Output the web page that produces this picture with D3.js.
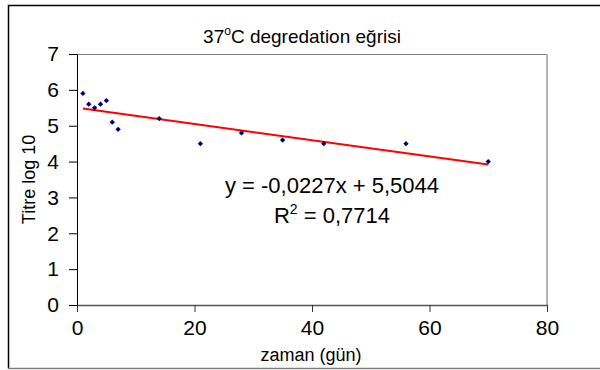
<!DOCTYPE html>
<html>
<head>
<meta charset="utf-8">
<script src="https://cdn.jsdelivr.net/npm/d3@7"></script>
<style>
  body { margin: 0; background: #fff; }
  svg { display: block; font-family: Arial, "Liberation Sans", sans-serif; }
</style>
</head>
<body>
<div id="chart"></div>
<script>
// 37°C degradation curve, titre (log10) vs days

const days = [1, 2, 3, 4, 5, 6, 7, 14, 21, 28, 35, 42, 56, 70];
const titre = [5.9, 5.6, 5.5, 5.6, 5.7, 5.1, 4.9, 5.2, 4.5, 4.8, 4.6, 4.5, 4.5, 4.0];
const slope = -0.0227;
const intercept = 5.5044;
const xTicks = [0, 20, 40, 60, 80];
const yTicks = [0, 1, 2, 3, 4, 5, 6, 7];

const width = 600, height = 370;
const margin = {top: 54, right: 53, bottom: 65, left: 77};

const svg = d3.select("#chart")
    .append("svg")
    .attr("width", width)
    .attr("height", height);

// outer chart border (cropped on the right)
svg.append("path")
    .attr("d", `M640,5.5 H8.5 V368.5`)
    .attr("fill", "none")
    .attr("stroke", "#000")
    .attr("stroke-width", 1.5);
svg.append("line")
    .attr("x1", 8).attr("x2", 600)
    .attr("y1", 368.5).attr("y2", 368.5)
    .attr("stroke", "#808080")
    .attr("stroke-width", 1.5);

const x = d3.scaleLinear()
    .domain([0, 80])
    .range([margin.left, width - margin.right]);

const y = d3.scaleLinear()
    .domain([0, 7])
    .range([height - margin.bottom, margin.top]);

// plot area frame: top and right edges
svg.append("line")
    .attr("x1", x(0)).attr("x2", x(80))
    .attr("y1", y(7) + 0.5).attr("y2", y(7) + 0.5)
    .attr("stroke", "#808080");
svg.append("line")
    .attr("x1", x(80)).attr("x2", x(80))
    .attr("y1", y(7)).attr("y2", y(0))
    .attr("stroke", "#b4b4b4")
    .attr("stroke-width", 2);

// x axis
const xAxis = svg.append("g")
    .attr("transform", `translate(0,${y(0)})`)
    .call(d3.axisBottom(x).tickValues(xTicks).tickFormat(d3.format("d"))
        .tickSize(7).tickPadding(8).tickSizeOuter(0));
xAxis.select(".domain").attr("stroke", "#555").attr("stroke-width", 1.5);
xAxis.selectAll(".tick line").attr("stroke", "#333");
xAxis.selectAll("text")
    .attr("font-size", 21)
    .attr("font-family", "Arial, 'Liberation Sans', sans-serif")
    .attr("fill", "#000");

// y axis
const yAxis = svg.append("g")
    .attr("transform", `translate(${x(0)},0)`)
    .call(d3.axisLeft(y).tickValues(yTicks).tickFormat(d3.format("d"))
        .tickSize(8).tickPadding(10).tickSizeOuter(0));
yAxis.select(".domain").attr("stroke", "#000");
yAxis.selectAll(".tick line").attr("stroke", "#000");
yAxis.selectAll("text")
    .attr("font-size", 21)
    .attr("font-family", "Arial, 'Liberation Sans', sans-serif")
    .attr("fill", "#000");

// trend line over the data range
const xr = d3.extent(days);
svg.append("line")
    .attr("x1", x(xr[0])).attr("y1", y(slope * xr[0] + intercept))
    .attr("x2", x(xr[1])).attr("y2", y(slope * xr[1] + intercept))
    .attr("stroke", "#ff0000")
    .attr("stroke-width", 2);

// data points, small navy diamonds
const diamond = d3.symbol().type(d3.symbolDiamond2).size(18);
svg.append("g")
    .selectAll("path")
    .data(days.map((d, i) => [d, titre[i]]))
    .join("path")
    .attr("transform", d => `translate(${x(d[0])},${y(d[1])})`)
    .attr("d", diamond)
    .attr("fill", "#000080");

// title
const title = svg.append("text")
    .attr("x", 302)
    .attr("y", 43)
    .attr("text-anchor", "middle")
    .attr("font-size", 19);
title.append("tspan").text("37");
title.append("tspan").attr("font-size", 12).attr("dy", -8).text("o");
title.append("tspan").attr("dy", 8).text("C degredation eğrisi");

// axis titles
svg.append("text")
    .attr("x", 311)
    .attr("y", 361)
    .attr("text-anchor", "middle")
    .attr("font-size", 18)
    .text("zaman (gün)");

svg.append("text")
    .attr("transform", `translate(35,${(y(0) + y(7)) / 2}) rotate(-90)`)
    .attr("text-anchor", "middle")
    .attr("font-size", 18)
    .text("Titre log 10");

// regression equation
svg.append("text")
    .attr("x", 332)
    .attr("y", 193)
    .attr("text-anchor", "middle")
    .attr("font-size", 22)
    .text("y = -0,0227x + 5,5044");

const r2 = svg.append("text")
    .attr("x", 332)
    .attr("y", 223)
    .attr("text-anchor", "middle")
    .attr("font-size", 22);
r2.append("tspan").text("R");
r2.append("tspan").attr("font-size", 14).attr("dy", -9).text("2");
r2.append("tspan").attr("dy", 9).text(" = 0,7714");
</script>
</body>
</html>
